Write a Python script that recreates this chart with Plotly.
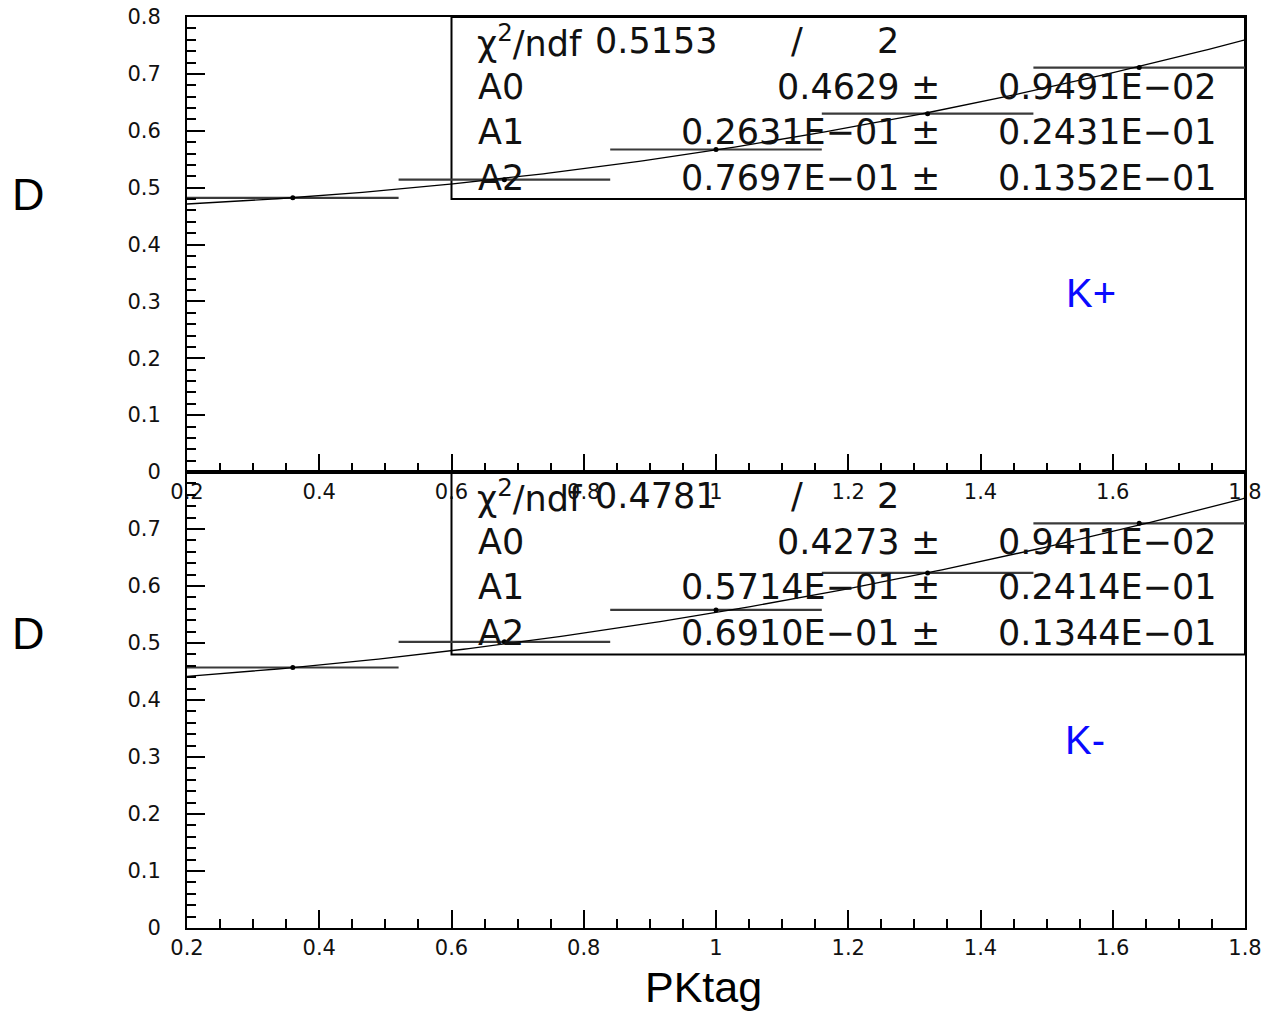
import numpy as np
import plotly.graph_objects as go

# Binned measurements of D versus PKtag for K+ and K- tags
pktag_bins = [0.36, 0.68, 1.00, 1.32, 1.64]
pktag_halfwidth = [0.16, 0.16, 0.16, 0.16, 0.16]
d_kplus = [0.482, 0.514, 0.567, 0.630, 0.711]
d_kminus = [0.457, 0.502, 0.558, 0.623, 0.710]

# Second-order polynomial fit results (A0 + A1*x + A2*x^2)
fit_kplus = [0.4629, 0.02631, 0.07697]
fit_kminus = [0.4273, 0.05714, 0.06910]

# Axis tick values and labels
x_ticks = [0.2, 0.4, 0.6, 0.8, 1.0, 1.2, 1.4, 1.6, 1.8]
x_text = ["0.2", "0.4", "0.6", "0.8", "1", "1.2", "1.4", "1.6", "1.8"]
y_ticks = [0, 0.1, 0.2, 0.3, 0.4, 0.5, 0.6, 0.7, 0.8]
y_text_top = ["0", "0.1", "0.2", "0.3", "0.4", "0.5", "0.6", "0.7", "0.8"]
y_text_bot = ["0", "0.1", "0.2", "0.3", "0.4", "0.5", "0.6", "0.7", ""]

# Stats box text
stats_kplus = {
    "chi2": "0.5153", "ndf": "2",
    "rows": [("A0", "0.4629", "0.9491E−02"),
             ("A1", "0.2631E−01", "0.2431E−01"),
             ("A2", "0.7697E−01", "0.1352E−01")],
}
stats_kminus = {
    "chi2": "0.4781", "ndf": "2",
    "rows": [("A0", "0.4273", "0.9411E−02"),
             ("A1", "0.5714E−01", "0.2414E−01"),
             ("A2", "0.6910E−01", "0.1344E−01")],
}

W, H = 1261, 1013


def px(x):
    return x / W


def py(y):
    return 1 - y / H


x_dom = [px(187), px(1245)]
top_dom = [py(472), py(17)]
bot_dom = [py(928), py(472)]

x_curve = np.linspace(0.2, 1.8, 200)

fig = go.Figure()

for d_vals, pars, xa, ya in [(d_kplus, fit_kplus, "x", "y"),
                             (d_kminus, fit_kminus, "x2", "y2")]:
    fig.add_trace(go.Scatter(
        x=pktag_bins, y=d_vals, mode="markers",
        marker=dict(color="black", size=5),
        error_x=dict(type="data", array=pktag_halfwidth, color="#3a3a3a",
                     thickness=2.2, width=0),
        xaxis=xa, yaxis=ya, showlegend=False,
    ))
    y_curve = pars[0] + pars[1] * x_curve + pars[2] * x_curve ** 2
    fig.add_trace(go.Scatter(
        x=x_curve, y=y_curve, mode="lines",
        line=dict(color="black", width=1.3),
        xaxis=xa, yaxis=ya, showlegend=False,
    ))

tick_font = dict(family="DejaVu Sans", size=21, color="#111")
axis_common = dict(
    showline=True, linecolor="black", linewidth=2, mirror=True,
    ticks="inside", tickcolor="black", tickwidth=2, ticklen=18,
    showgrid=False, zeroline=False, tickfont=tick_font, automargin=False,
    ticklabeloverflow="allow",
)

x_axis = dict(axis_common, range=[0.2, 1.8], domain=x_dom,
              tickmode="array", tickvals=x_ticks, ticktext=x_text,
              minor=dict(dtick=0.05, tick0=0.2, ticks="inside", ticklen=9,
                         tickwidth=2, tickcolor="black"))
y_minor = dict(dtick=0.02, tick0=0, ticks="inside", ticklen=9,
               tickwidth=2, tickcolor="black")

fig.update_layout(
    width=W, height=H,
    margin=dict(l=0, r=0, t=0, b=0, pad=0),
    paper_bgcolor="white", plot_bgcolor="rgba(0,0,0,0)",
    xaxis=dict(x_axis, anchor="y"),
    yaxis=dict(axis_common, range=[0, 0.8], domain=top_dom, anchor="x",
               tickmode="array", tickvals=y_ticks, ticktext=y_text_top,
               minor=y_minor, ticklabelstandoff=20),
    xaxis2=dict(x_axis, anchor="y2"),
    yaxis2=dict(axis_common, range=[0, 0.8], domain=bot_dom, anchor="x2",
                tickmode="array", tickvals=y_ticks, ticktext=y_text_bot,
                minor=y_minor, ticklabelstandoff=20),
)

# Stats boxes
stat_font = dict(family="DejaVu Sans", size=35, color="#111")
for stats, xr, yr, y_off in [(stats_kplus, "x", "y", 0),
                             (stats_kminus, "x2", "y2", 455)]:
    fig.add_shape(type="rect", xref=xr, yref=yr, x0=0.6, x1=1.8,
                  y0=0.48, y1=0.8, line=dict(color="black", width=2),
                  fillcolor="rgba(0,0,0,0)", layer="below")
    rows_y = [41 + y_off, 87 + y_off, 132 + y_off, 178 + y_off]
    fig.add_annotation(x=px(475), y=py(rows_y[0]), xref="paper", yref="paper",
                       text="χ<sup>2</sup>/ndf", showarrow=False,
                       xanchor="left", yanchor="middle", font=stat_font)
    fig.add_annotation(x=px(593), y=py(rows_y[0]), xref="paper", yref="paper",
                       text=stats["chi2"], showarrow=False,
                       xanchor="left", yanchor="middle", font=stat_font)
    fig.add_annotation(x=px(797), y=py(rows_y[0]), xref="paper", yref="paper",
                       text="/", showarrow=False,
                       xanchor="center", yanchor="middle", font=stat_font)
    fig.add_annotation(x=px(888), y=py(rows_y[0]), xref="paper", yref="paper",
                       text=stats["ndf"], showarrow=False,
                       xanchor="center", yanchor="middle", font=stat_font)
    for (name, val, err), ry in zip(stats["rows"], rows_y[1:]):
        fig.add_annotation(x=px(476), y=py(ry), xref="paper", yref="paper",
                           text=name, showarrow=False,
                           xanchor="left", yanchor="middle", font=stat_font)
        fig.add_annotation(x=px(901), y=py(ry), xref="paper", yref="paper",
                           text=val, showarrow=False,
                           xanchor="right", yanchor="middle", font=stat_font)
        fig.add_annotation(x=px(926), y=py(ry), xref="paper", yref="paper",
                           text="±", showarrow=False,
                           xanchor="center", yanchor="middle", font=stat_font)
        fig.add_annotation(x=px(1218), y=py(ry), xref="paper", yref="paper",
                           text=err, showarrow=False,
                           xanchor="right", yanchor="middle", font=stat_font)

# Axis titles and panel labels
label_font = dict(family="Liberation Sans", size=45, color="black")
for yy in (195, 633):
    fig.add_annotation(x=px(28), y=py(yy), xref="paper", yref="paper",
                       text="D", showarrow=False, xanchor="center",
                       yanchor="middle", font=label_font)
fig.add_annotation(x=px(703), y=py(987), xref="paper", yref="paper",
                   text="PKtag", showarrow=False, xanchor="center",
                   yanchor="middle",
                   font=dict(family="Liberation Sans", size=43, color="black"))
blue_font = dict(family="Liberation Sans", size=40, color="#0a0aff")
fig.add_annotation(x=px(1091), y=py(293), xref="paper", yref="paper",
                   text="K+", showarrow=False, xanchor="center",
                   yanchor="middle", font=blue_font)
fig.add_annotation(x=px(1085), y=py(740), xref="paper", yref="paper",
                   text="K-", showarrow=False, xanchor="center",
                   yanchor="middle", font=blue_font)

fig.write_html("out.html")
